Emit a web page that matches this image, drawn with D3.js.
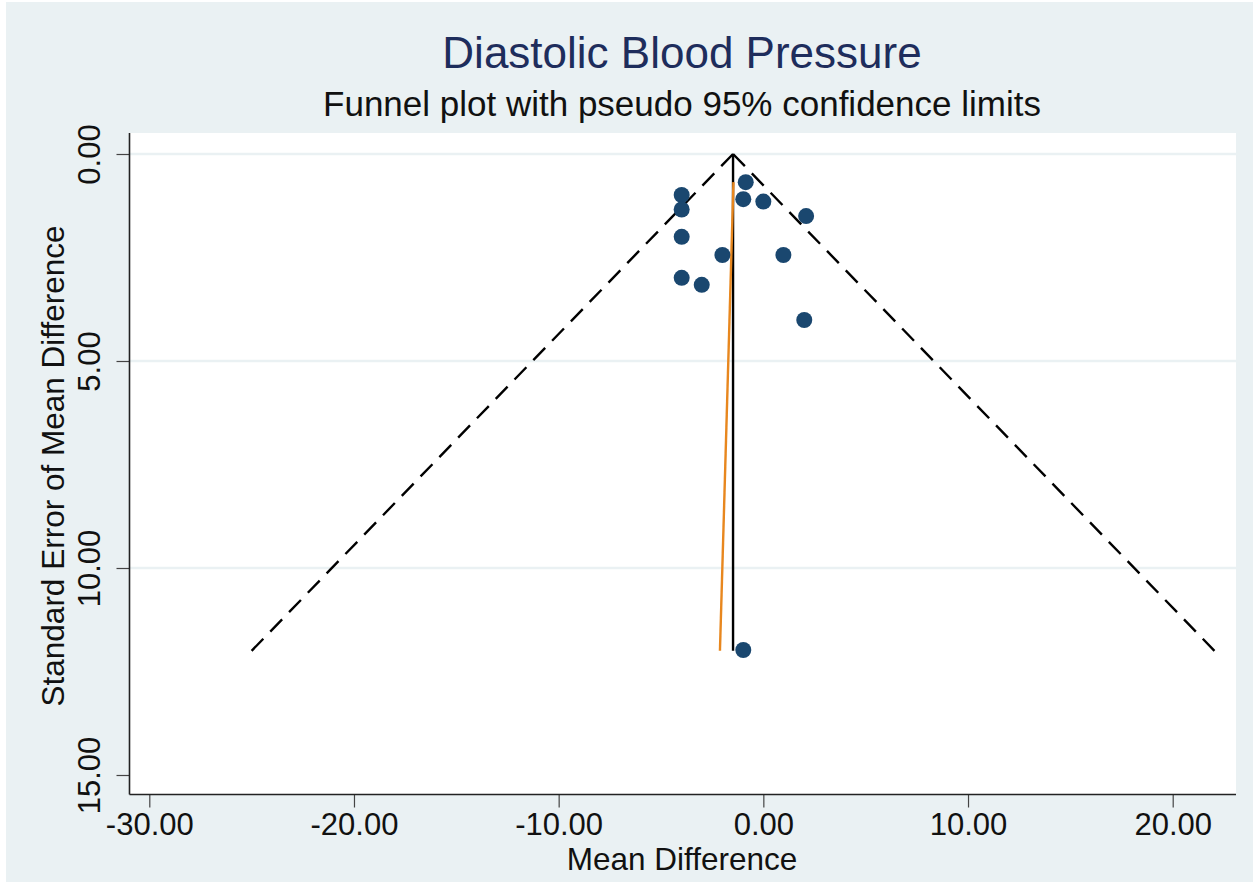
<!DOCTYPE html>
<html>
<head>
<meta charset="utf-8">
<script src="https://cdn.jsdelivr.net/npm/d3@7"></script>
<style>
  body { margin: 0; background: #ffffff; }
  text { font-family: "Liberation Sans", Arial, sans-serif; }
</style>
</head>
<body>
<svg id="chart" width="1253" height="882"></svg>
<script>
// study estimates: mean difference and its standard error
const meanDiff = [-0.86, -3.99, -3.99, -0.98, 0.0, 2.09, -3.99, -2.0, 0.98, -3.99, -3.01, 2.0, -0.98]
const stdErr   = [0.68, 0.99, 1.34, 1.09, 1.15, 1.50, 2.0, 2.44, 2.44, 2.99, 3.16, 4.01, 11.98]

const pooled = -1.48
const seMax = 12.0
// orange fitted line: [mean difference, standard error] at its two ends
const fitLine = [[-1.46, 0.68], [-2.12, 12.0]]

const xTicks = [-30, -20, -10, 0, 10, 20]
const yTicks = [0, 5, 10, 15]
const gridTicks = [0, 5, 10]

const svg = d3.select("#chart")
const bg = "#eaf1f3"

const plotLeft = 129.5, plotRight = 1236, plotTop = 133, plotBottom = 794.5

const x = d3.scaleLinear().domain([-30, 20]).range([149.3, 1172.7])
const y = d3.scaleLinear().domain([0, 15]).range([154, 775])

svg.append("rect")
  .attr("x", 6).attr("y", 2)
  .attr("width", 1247).attr("height", 880)
  .attr("fill", bg)

svg.append("rect")
  .attr("x", plotLeft).attr("y", plotTop)
  .attr("width", plotRight - plotLeft).attr("height", plotBottom - plotTop)
  .attr("fill", "#ffffff")

// gridlines
svg.selectAll(".grid")
  .data(gridTicks)
  .enter().append("line")
  .attr("x1", plotLeft).attr("x2", plotRight)
  .attr("y1", d => y(d)).attr("y2", d => y(d))
  .attr("stroke", bg)
  .attr("stroke-width", 2.5)

// funnel limits
const funnel = [
  [[pooled, 0], [pooled - 1.96 * seMax, seMax]],
  [[pooled, 0], [pooled + 1.96 * seMax, seMax]]
]
const line = d3.line().x(d => x(d[0])).y(d => y(d[1]))

svg.selectAll(".funnel")
  .data(funnel)
  .enter().append("path")
  .attr("d", line)
  .attr("fill", "none")
  .attr("stroke", "#000")
  .attr("stroke-width", 2.4)
  .attr("stroke-dasharray", "17,10")

// pooled estimate line
svg.append("path")
  .attr("d", line([[pooled, 0], [pooled, seMax]]))
  .attr("stroke", "#000")
  .attr("stroke-width", 2.4)

// fitted line
svg.append("path")
  .attr("d", line(fitLine))
  .attr("stroke", "#e8871e")
  .attr("stroke-width", 2.4)

// studies
svg.selectAll(".dot")
  .data(meanDiff)
  .enter().append("circle")
  .attr("cx", d => x(d))
  .attr("cy", (d, i) => y(stdErr[i]))
  .attr("r", 8)
  .attr("fill", "#1a476f")

// axes
const xAxis = svg.append("g")
  .attr("transform", "translate(0," + plotBottom + ")")
  .call(d3.axisBottom(x).tickValues(xTicks).tickSize(13).tickPadding(5)
    .tickFormat(d => d.toFixed(2)))
xAxis.select(".domain").remove()
xAxis.selectAll(".tick line").attr("stroke", "#444").attr("stroke-width", 1.2)
xAxis.selectAll("text").attr("font-size", 31).attr("fill", "#111")
  .attr("font-family", "Liberation Sans, Arial, sans-serif")

const yAxis = svg.append("g")
  .attr("transform", "translate(" + plotLeft + ",0)")
  .call(d3.axisLeft(y).tickValues(yTicks).tickSize(13)
    .tickFormat(d => d.toFixed(2)))
yAxis.select(".domain").remove()
yAxis.selectAll(".tick line").attr("stroke", "#444").attr("stroke-width", 1.2)
yAxis.selectAll("text")
  .attr("transform", "rotate(-90)")
  .attr("x", 0).attr("y", -29.5).attr("dy", 0)
  .attr("text-anchor", "middle")
  .attr("font-size", 31).attr("fill", "#111")
  .attr("font-family", "Liberation Sans, Arial, sans-serif")

svg.append("line")
  .attr("x1", plotLeft).attr("x2", plotRight)
  .attr("y1", plotBottom).attr("y2", plotBottom)
  .attr("stroke", "#222").attr("stroke-width", 1.6)
svg.append("line")
  .attr("x1", plotLeft).attr("x2", plotLeft)
  .attr("y1", plotTop).attr("y2", plotBottom)
  .attr("stroke", "#222").attr("stroke-width", 1.6)

// titles
svg.append("text")
  .attr("x", 682).attr("y", 68)
  .attr("text-anchor", "middle")
  .attr("font-size", 44)
  .attr("fill", "#1e2d5c")
  .text("Diastolic Blood Pressure")

svg.append("text")
  .attr("x", 682).attr("y", 116)
  .attr("text-anchor", "middle")
  .attr("font-size", 35)
  .attr("fill", "#111")
  .text("Funnel plot with pseudo 95% confidence limits")

svg.append("text")
  .attr("x", 682).attr("y", 870)
  .attr("text-anchor", "middle")
  .attr("font-size", 31.5)
  .attr("fill", "#111")
  .text("Mean Difference")

svg.append("text")
  .attr("transform", "translate(64,466) rotate(-90)")
  .attr("text-anchor", "middle")
  .attr("font-size", 31.5)
  .attr("fill", "#111")
  .text("Standard Error of Mean Difference")
</script>
</body>
</html>
